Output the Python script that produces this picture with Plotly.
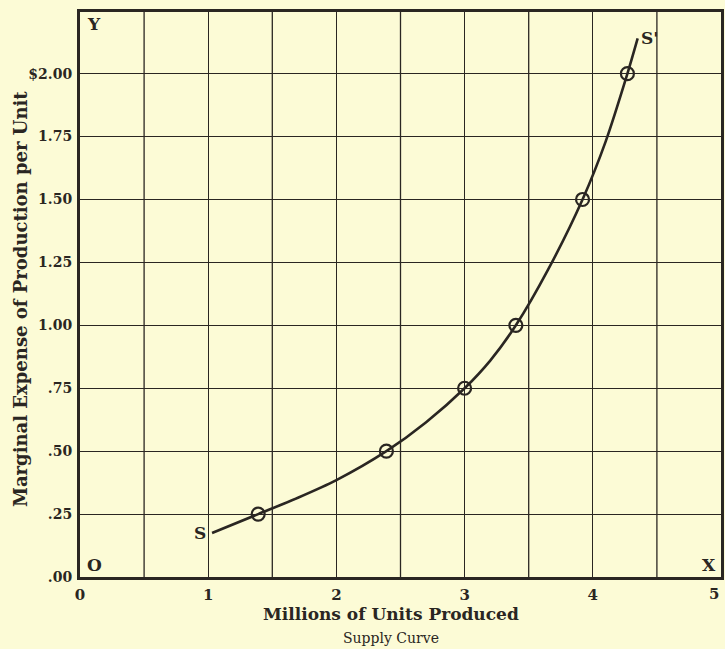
import plotly.graph_objects as go

# Data
curve_x = [1.03, 1.39, 1.7, 2.0, 2.39, 2.7, 3.0, 3.2, 3.4, 3.65, 3.92, 4.1, 4.27, 4.35]
curve_y = [0.175, 0.25, 0.315, 0.385, 0.5, 0.615, 0.75, 0.86, 1.0, 1.22, 1.5, 1.73, 2.0, 2.14]
point_x = [1.39, 2.39, 3.0, 3.4, 3.92, 4.27]
point_y = [0.25, 0.50, 0.75, 1.00, 1.50, 2.00]
x_ticks = [0, 1, 2, 3, 4]
y_ticks = [0, 0.25, 0.5, 0.75, 1.0, 1.25, 1.5, 1.75, 2.0]
y_tick_labels = [".00", ".25", ".50", ".75", "1.00", "1.25", "1.50", "1.75", "$2.00"]

BG = "#fcfbd6"
INK = "#2a2622"
FONT = "DejaVu Serif"

fig = go.Figure()
fig.add_trace(go.Scatter(x=curve_x, y=curve_y, mode="lines",
                         line=dict(color=INK, width=2.6, shape="spline", smoothing=0.8),
                         hoverinfo="skip", showlegend=False))
fig.add_trace(go.Scatter(x=point_x, y=point_y, mode="markers",
                         marker=dict(symbol="circle-open", size=13, color=INK,
                                     line=dict(width=2.2, color=INK)),
                         showlegend=False))

annots = [
    dict(x=0.04, y=2.245, text="Y", xanchor="left", yanchor="top"),
    dict(x=0.04, y=0.0, text="O", xanchor="left", yanchor="bottom"),
    dict(x=4.98, y=0.0, text="X", xanchor="right", yanchor="bottom"),
    dict(x=1.0, y=0.175, text="S", xanchor="right", yanchor="middle"),
    dict(x=4.36, y=2.14, text="S'", xanchor="left", yanchor="middle"),
]
annotations = [dict(x=a["x"], y=a["y"], xref="x", yref="y", text=a["text"], showarrow=False,
                    xanchor=a["xanchor"], yanchor=a["yanchor"],
                    font=dict(family=FONT, size=17, color=INK, weight="bold")) for a in annots]
# last x tick label "5" placed at the right edge
annotations.append(dict(x=5, y=0, xref="x", yref="y", text="5", showarrow=False,
                        xanchor="right", yanchor="top", yshift=-6,
                        font=dict(family=FONT, size=15, color=INK, weight="bold")))
annotations.append(dict(x=0.485, y=-0.0655, xref="paper", yref="paper", text="Millions of Units Produced",
                        showarrow=False, xanchor="center", yanchor="middle",
                        font=dict(family=FONT, size=17, color=INK, weight="bold")))
annotations.append(dict(x=0.485, y=-0.108, xref="paper", yref="paper", text="Supply Curve",
                        showarrow=False, xanchor="center", yanchor="middle",
                        font=dict(family=FONT, size=14, color=INK)))
annotations.append(dict(x=0, y=0.492, xref="paper", yref="paper", xshift=-60,
                        text="Marginal Expense of Production per Unit", textangle=-90,
                        showarrow=False, xanchor="center", yanchor="middle",
                        font=dict(family=FONT, size=18, color=INK, weight="bold")))

fig.update_layout(
    width=725, height=649,
    margin=dict(l=80, r=4, t=12, b=72),
    paper_bgcolor=BG, plot_bgcolor=BG,
    font=dict(family=FONT, color=INK, size=14),
    annotations=annotations,
    xaxis=dict(range=[0, 5], tickvals=x_ticks, ticktext=[str(t) for t in x_ticks],
               showgrid=True, gridcolor=INK, gridwidth=1.3,
               showline=True, linecolor=INK, linewidth=3, mirror=True,
               zeroline=False, ticks="", ticklabelstandoff=2, automargin=False,
               tickfont=dict(family=FONT, size=15, color=INK, weight="bold")),
    yaxis=dict(range=[0, 2.245], tickvals=y_ticks, ticktext=y_tick_labels,
               showgrid=True, gridcolor=INK, gridwidth=1.3,
               showline=True, linecolor=INK, linewidth=3, mirror=True,
               zeroline=False, ticks="", automargin=False, ticklabelstandoff=2,
               tickfont=dict(family=FONT, size=14, color=INK, weight="bold")),
)
# extra vertical grid lines at half units
for xv in [0.5, 1.5, 2.5, 3.5, 4.5]:
    fig.add_vline(x=xv, line=dict(color=INK, width=1.3), layer="below")

fig.write_html("out.html", config={"displayModeBar": False},
               post_script="document.body.style.margin='0';document.body.style.background='%s';" % BG)
